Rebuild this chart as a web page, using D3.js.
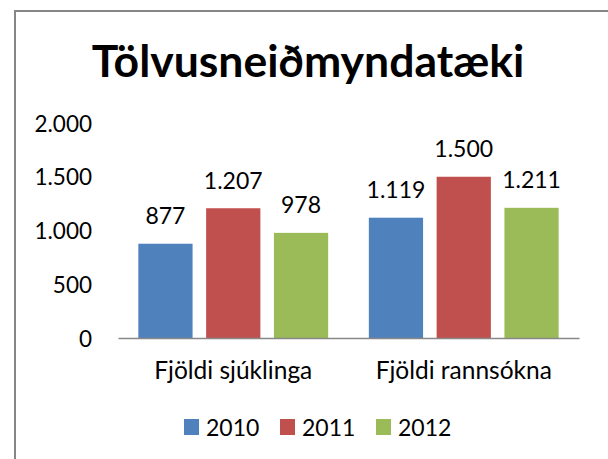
<!DOCTYPE html>
<html>
<head>
<meta charset="utf-8">
<script src="https://cdn.jsdelivr.net/npm/d3@7"></script>
<style>
  html, body { margin: 0; padding: 0; background: #fff; }
  svg { display: block; }
  text { font-family: Lato, "Open Sans", "Liberation Sans", sans-serif; fill: #000; }
</style>
</head>
<body>
<div id="chart"></div>
<script>
// Tölvusneiðmyndatæki – fjöldi sjúklinga og rannsókna eftir árum
const categories = ["Fjöldi sjúklinga", "Fjöldi rannsókna"];
const years = ["2010", "2011", "2012"];
const values2010 = [877, 1119];
const values2011 = [1207, 1500];
const values2012 = [978, 1211];
const yTicks = [0, 500, 1000, 1500, 2000];
const colors = ["#4F81BD", "#C0504D", "#9BBB59"];

const seriesValues = [values2010, values2011, values2012];

const W = 608, H = 459;
const plot = { left: 118, right: 579, top: 123, bottom: 338 };
const FONT = 'Lato, "Open Sans", sans-serif';

// Icelandic number format: dot as thousands separator
const isLocale = d3.formatLocale({ decimal: ",", thousands: ".", grouping: [3], currency: ["", " kr."] });
const fmt = isLocale.format(",d");

const svg = d3.select("#chart").append("svg")
  .attr("width", W).attr("height", H);

svg.append("rect").attr("width", W).attr("height", H).attr("fill", "#fff");

// chart frame (continues past the right and bottom edges)
svg.append("rect")
  .attr("x", 15).attr("y", 11)
  .attr("width", 700).attr("height", 600)
  .attr("fill", "none")
  .attr("stroke", "#868686")
  .attr("stroke-width", 2);

// title
svg.append("text")
  .attr("x", 308).attr("y", 77)
  .attr("text-anchor", "middle")
  .style("font-weight", "bold")
  .style("font-size", "44.5px")
  .text("Tölvusneiðmyndatæki");

const y = d3.scaleLinear().domain([0, 2000]).range([plot.bottom, plot.top]);
const x0 = d3.scaleBand().domain(categories).range([plot.left, plot.right]).padding(0);
const x1 = d3.scaleBand().domain(years).range([0, x0.bandwidth()])
  .paddingInner(0.2).paddingOuter(0.3);

// value axis labels
const yAxis = d3.axisLeft(y).tickValues(yTicks).tickFormat(fmt).tickSize(0).tickPadding(0);
const yg = svg.append("g").attr("transform", `translate(92,0)`).call(yAxis);
yg.select(".domain").remove();
yg.selectAll("text")
  .attr("dy", "0.36em")
  .style("font-family", FONT)
  .style("font-size", "22.5px")
  .attr("fill", "#000");

// bars
const rows = categories.map((c, i) => ({
  category: c,
  items: years.map((yr, j) => ({ year: yr, value: seriesValues[j][i], color: colors[j] }))
}));

const groups = svg.append("g").selectAll("g").data(rows).join("g")
  .attr("transform", d => `translate(${x0(d.category)},0)`);

groups.selectAll("rect").data(d => d.items).join("rect")
  .attr("x", d => x1(d.year))
  .attr("y", d => y(d.value))
  .attr("width", x1.bandwidth())
  .attr("height", d => y(0) - y(d.value))
  .attr("fill", d => d.color);

groups.selectAll("text.val").data(d => d.items).join("text")
  .attr("class", "val")
  .attr("x", d => x1(d.year) + x1.bandwidth() / 2)
  .attr("y", d => y(d.value) - 19.5)
  .attr("text-anchor", "middle")
  .style("font-size", "23px")
  .text(d => fmt(d.value));

// category axis
const xAxis = d3.axisBottom(x0).tickSize(0).tickPadding(0);
const xg = svg.append("g").attr("transform", `translate(0,${plot.bottom})`).call(xAxis);
xg.select(".domain").attr("stroke", "#888").attr("stroke-width", 1.5);
xg.selectAll("text")
  .attr("dy", null)
  .attr("y", 41)
  .style("font-family", FONT)
  .style("font-size", "24.5px")
  .attr("fill", "#000");

// legend
const legend = svg.append("g").attr("transform", "translate(184,419)");
const li = legend.selectAll("g").data(years).join("g")
  .attr("transform", (d, i) => `translate(${i * 96},0)`);
li.append("rect").attr("width", 15).attr("height", 16).attr("fill", (d, i) => colors[i]);
li.append("text").attr("x", 22).attr("y", 16.5)
  .style("font-size", "23px")
  .text(d => d);
</script>
</body>
</html>
